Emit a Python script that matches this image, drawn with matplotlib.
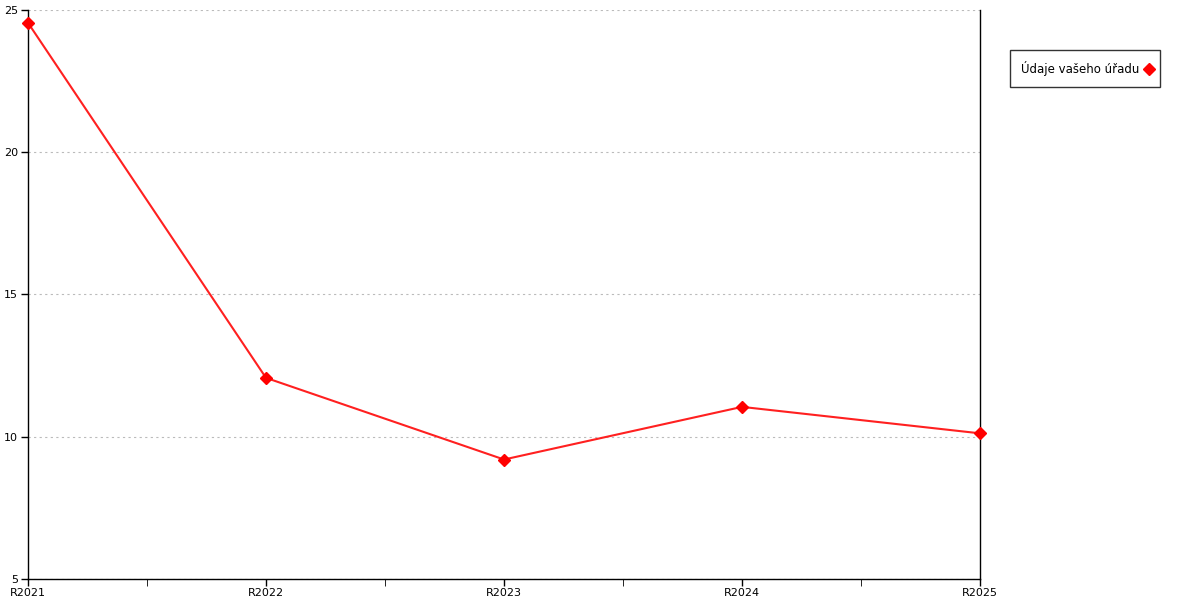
import matplotlib.pyplot as plt
from matplotlib.ticker import MultipleLocator

years = ['R2021', 'R2022', 'R2023', 'R2024', 'R2025']
values = [24.55, 12.07, 9.2, 11.05, 10.12]
series_name = 'Údaje vašeho úřadu'

fig = plt.figure(figsize=(12, 6), dpi=100)
ax = fig.add_axes([28/1200, 21/600, 952/1200, 569/600])

x = list(range(len(years)))
ax.plot(x, values, '-', color='#ff2020', lw=1.5, marker='D', ms=6,
        mfc='red', mec='red', label=series_name, clip_on=False, zorder=3)

ax.set_xlim(0, len(years) - 1)
ax.set_ylim(5, 25)
ax.set_xticks(x)
ax.set_xticklabels(years)
ax.xaxis.set_minor_locator(MultipleLocator(0.5))
ax.yaxis.set_major_locator(MultipleLocator(5))

ax.tick_params(axis='both', labelsize=8, colors='black', width=1)
ax.tick_params(axis='x', which='major', length=5, pad=1.5)
ax.tick_params(axis='x', which='minor', length=5)
ax.tick_params(axis='y', length=5, pad=2)

ax.grid(axis='y', color='#bbbbbb', ls=(0, (2, 3)), lw=0.8)
ax.spines['top'].set_visible(False)
for s in ['left', 'right', 'bottom']:
    ax.spines[s].set_color('black')
    ax.spines[s].set_linewidth(1)

leg = ax.legend(loc='upper left', bbox_to_anchor=(1010/1200, 550/600),
                bbox_transform=fig.transFigure, markerfirst=False,
                fancybox=False, edgecolor='black', fontsize=8.5,
                handlelength=0, handletextpad=0.8, borderpad=0.95,
                borderaxespad=0)
leg.get_frame().set_linewidth(1)

fig.savefig('out.png', dpi=100)
